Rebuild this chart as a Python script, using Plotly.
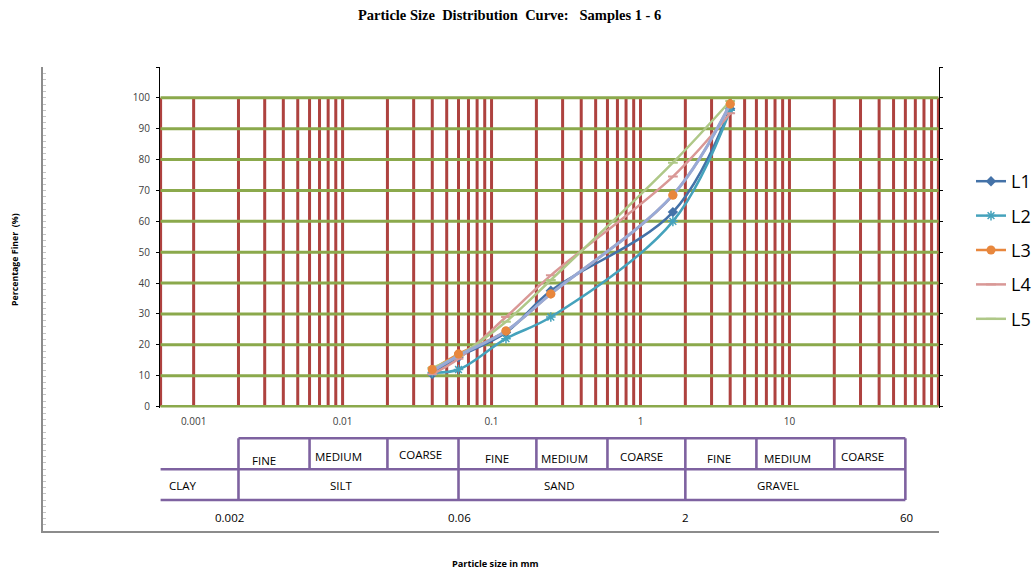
import math
import plotly.graph_objects as go

# ---------------- data ----------------
sizes_mm = [0.04, 0.06, 0.125, 0.25, 1.65, 4.0]
L1 = [10.5, 16.0, 24.0, 37.5, 63.0, 96.5]
L2 = [11.0, 12.0, 22.0, 29.0, 60.0, 96.0]
L3 = [12.0, 17.0, 24.5, 36.5, 68.5, 98.0]
L4 = [10.5, 15.5, 29.0, 42.5, 74.5, 95.0]
L5 = [12.5, 16.5, 27.5, 41.0, 79.0, 99.0]
L6 = [11.5, 16.5, 24.5, 36.5, 68.5, 98.0]

y_tick_vals = [0, 10, 20, 30, 40, 50, 60, 70, 80, 90, 100, 110]
y_tick_text = ["0", "10", "20", "30", "40", "50", "60", "70", "80", "90", "100", ""]
x_tick_vals = [0.001, 0.01, 0.1, 1, 10]
x_tick_text = ["0.001", "0.01", "0.1", "1", "10"]

class_bounds = [0.002, 0.06, 2, 60]
class_bound_labels = ["0.002", "0.06", "2", "60"]
sub_bounds = [0.006, 0.02, 0.2, 0.6, 6, 20]
main_classes = ["CLAY", "SILT", "SAND", "GRAVEL"]
sub_classes = ["FINE", "MEDIUM", "COARSE"] * 3

X_MIN, X_MAX = 0.0006, 100
Y_GRID_MAX = 100

# ---------------- page geometry ----------------
W, H = 1035, 569
ML, MR, MT, MB = 43, 96, 67, 38
PW, PH = W - ML - MR, H - MT - MB


def px_x(p):
    return (p - ML) / PW


def px_y(p):
    return (H - MB - p) / PH


FONT = "Open Sans"
GRID_RED = "#AE423F"
GRID_GREEN = "#8BA94C"
PURPLE = "#7E62A0"

fig = go.Figure()

# vertical (red) grid lines drawn as a series
grid_x_vals = [X_MIN] + [k * 10.0 ** d for d in range(-3, 2) for k in range(1, 10)] + [X_MAX]
gx, gy = [], []
for v in grid_x_vals:
    gx += [v, v, None]
    gy += [0, Y_GRID_MAX, None]
fig.add_trace(go.Scatter(x=gx, y=gy, mode="lines", line=dict(color=GRID_RED, width=3),
                         showlegend=False, hoverinfo="skip"))

# horizontal (green) grid lines
hx, hy = [], []
for v in range(0, Y_GRID_MAX + 1, 10):
    hx += [X_MIN, X_MAX, None]
    hy += [v, v, None]
fig.add_trace(go.Scatter(x=hx, y=hy, mode="lines", line=dict(color=GRID_GREEN, width=3),
                         showlegend=False, hoverinfo="skip"))

series = [
    ("L1", L1, "#4472A8", dict(symbol="diamond", size=8, color="#4472A8")),
    ("L2", L2, "#45A2BC", dict(symbol="asterisk-open", size=8, color="#45A2BC",
                                line=dict(width=1.5, color="#45A2BC"))),
    ("L3", L3, "#E8873D", dict(symbol="circle", size=9, color="#E8873D")),
    ("L4", L4, "#D99896", dict(symbol="line-ew-open", size=7, line=dict(width=2, color="#D99896"))),
    ("L5", L5, "#AFC888", dict(symbol="line-ew-open", size=7, line=dict(width=2, color="#AFC888"))),
]
for name, vals, col, mk in series:
    fig.add_trace(go.Scatter(x=sizes_mm, y=vals, name=name, legendgroup=name,
                             mode="lines+markers", line=dict(color=col, width=2.5, shape="spline"),
                             marker=mk))

# sixth sample (not in legend)
fig.add_trace(go.Scatter(x=sizes_mm, y=L6, name="L6", mode="lines", showlegend=False,
                         line=dict(color="#98AAD7", width=3, shape="spline")))
# L3 markers on top
fig.add_trace(go.Scatter(x=sizes_mm, y=L3, mode="markers", showlegend=False, legendgroup="L3",
                         marker=dict(symbol="circle", size=9, color="#E8873D")))

# frame axes (outer ruler)
fig.add_trace(go.Scatter(x=[None], y=[None], xaxis="x2", yaxis="y3", showlegend=False,
                         hoverinfo="skip"))

# ---------------- classification table ----------------
shapes = []
y_top, y_mid, y_bot = px_y(438.3), px_y(469.3), px_y(500)
line_style = dict(color=PURPLE, width=2.6)
shapes.append(dict(type="line", xref="x", yref="paper", x0=class_bounds[0], x1=class_bounds[-1],
                   y0=y_top, y1=y_top, line=line_style))
for yy in (y_mid, y_bot):
    shapes.append(dict(type="line", xref="x", yref="paper", x0=X_MIN, x1=class_bounds[-1],
                       y0=yy, y1=yy, line=line_style))
for b in class_bounds:
    shapes.append(dict(type="line", xref="x", yref="paper", x0=b, x1=b, y0=y_bot, y1=y_top,
                       line=line_style))
for b in sub_bounds:
    shapes.append(dict(type="line", xref="x", yref="paper", x0=b, x1=b, y0=y_mid, y1=y_top,
                       line=line_style))

annotations = []
tab_font = dict(family=FONT, size=11.5, color="#000000")
sub_pos_mm = [0.00295, 0.0094, 0.0336, 0.109, 0.31, 1.01, 3.36, 9.68, 30.8]
sub_pos_y = [460, 456.5, 454.5, 458, 458, 456.5, 458, 458, 457]
for t, xm, yp in zip(sub_classes, sub_pos_mm, sub_pos_y):
    annotations.append(dict(text=t, x=math.log10(xm), y=px_y(yp), xref="x", yref="paper",
                            showarrow=False, font=tab_font, xanchor="center", yanchor="middle"))
main_pos_mm = [0.00066, 0.00977, 0.287, 8.43]
main_anchor = ["left", "center", "center", "center"]
for t, xm, an in zip(main_classes, main_pos_mm, main_anchor):
    annotations.append(dict(text=t, x=math.log10(xm), y=px_y(485), xref="x", yref="paper",
                            showarrow=False, font=tab_font, xanchor=an, yanchor="middle"))
bound_pos_mm = [0.00173, 0.0613, 2.0, 60.7]
for t, xm in zip(class_bound_labels, bound_pos_mm):
    annotations.append(dict(text=t, x=math.log10(xm), y=px_y(517), xref="x", yref="paper",
                            showarrow=False, font=tab_font, xanchor="center", yanchor="middle"))

# titles
annotations.append(dict(text="<b>Particle Size\u00a0 Distribution\u00a0 Curve:\u00a0\u00a0 Samples 1 - 6</b>",
                        x=px_x(510), y=px_y(15), xref="paper", yref="paper", showarrow=False,
                        font=dict(family="Liberation Serif", size=14.5, color="#000000"),
                        xanchor="center", yanchor="middle"))
annotations.append(dict(text="<b>Percentage Finer\u00a0 (%)</b>", x=px_x(15), y=px_y(260),
                        xref="paper", yref="paper", showarrow=False, textangle=-90,
                        font=dict(family=FONT, size=8.8, color="#000000"),
                        xanchor="center", yanchor="middle"))
annotations.append(dict(text="<b>Particle size in mm</b>", x=px_x(495), y=px_y(563),
                        xref="paper", yref="paper", showarrow=False,
                        font=dict(family=FONT, size=9.2, color="#000000"),
                        xanchor="center", yanchor="middle"))

main_y_bottom = px_y(407.5)

fig.update_layout(
    width=W, height=H, autosize=False,
    margin=dict(l=ML, r=MR, t=MT, b=MB, pad=0, autoexpand=False),
    paper_bgcolor="white", plot_bgcolor="rgba(0,0,0,0)",
    font=dict(family=FONT, color="#404040"),
    showlegend=True,
    legend=dict(x=px_x(971), y=px_y(250), xanchor="left", yanchor="middle",
                font=dict(family=FONT, size=18, color="#000000"),
                traceorder="grouped", tracegroupgap=8, itemwidth=30,
                bgcolor="rgba(0,0,0,0)"),
    xaxis=dict(type="log", domain=[px_x(160), 1], anchor="y",
               range=[math.log10(X_MIN) - 0.004, math.log10(X_MAX) + 0.004],
               tickvals=x_tick_vals, ticktext=x_tick_text, ticks="",
               tickfont=dict(family=FONT, size=10, color="#404040"),
               ticklabelstandoff=6,
               showgrid=False, zeroline=False, showline=False),
    yaxis=dict(domain=[main_y_bottom, 1], anchor="x", range=[-0.3, 110],
               tickvals=y_tick_vals, ticktext=y_tick_text,
               ticks="outside", ticklen=3, tickcolor="#000000", tickwidth=1,
               showline=True, linecolor="#000000", linewidth=1, mirror="ticks",
               layer="below traces",
               tickfont=dict(family=FONT, size=10, color="#404040"),
               ticklabelstandoff=4,
               showgrid=False, zeroline=False),
    xaxis2=dict(domain=[0, 1], anchor="y3", range=[0, 1], showgrid=False, zeroline=False,
                showline=True, linecolor="#8C8C8C", linewidth=1.5, ticks="",
                showticklabels=False),
    yaxis3=dict(domain=[0, 1], anchor="x2", range=[0, 75], dtick=1, tick0=0,
                ticks="inside", ticklen=3, tickcolor="#C4C4C4", tickwidth=1,
                showline=True, linecolor="#8C8C8C", linewidth=1.5,
                showticklabels=False, showgrid=False, zeroline=False),
    shapes=shapes,
    annotations=annotations,
)

fig.write_html(
    "out.html",
    config={"responsive": False, "displayModeBar": False},
    post_script="document.body.style.margin='0px';document.body.style.overflow='hidden';",
)
